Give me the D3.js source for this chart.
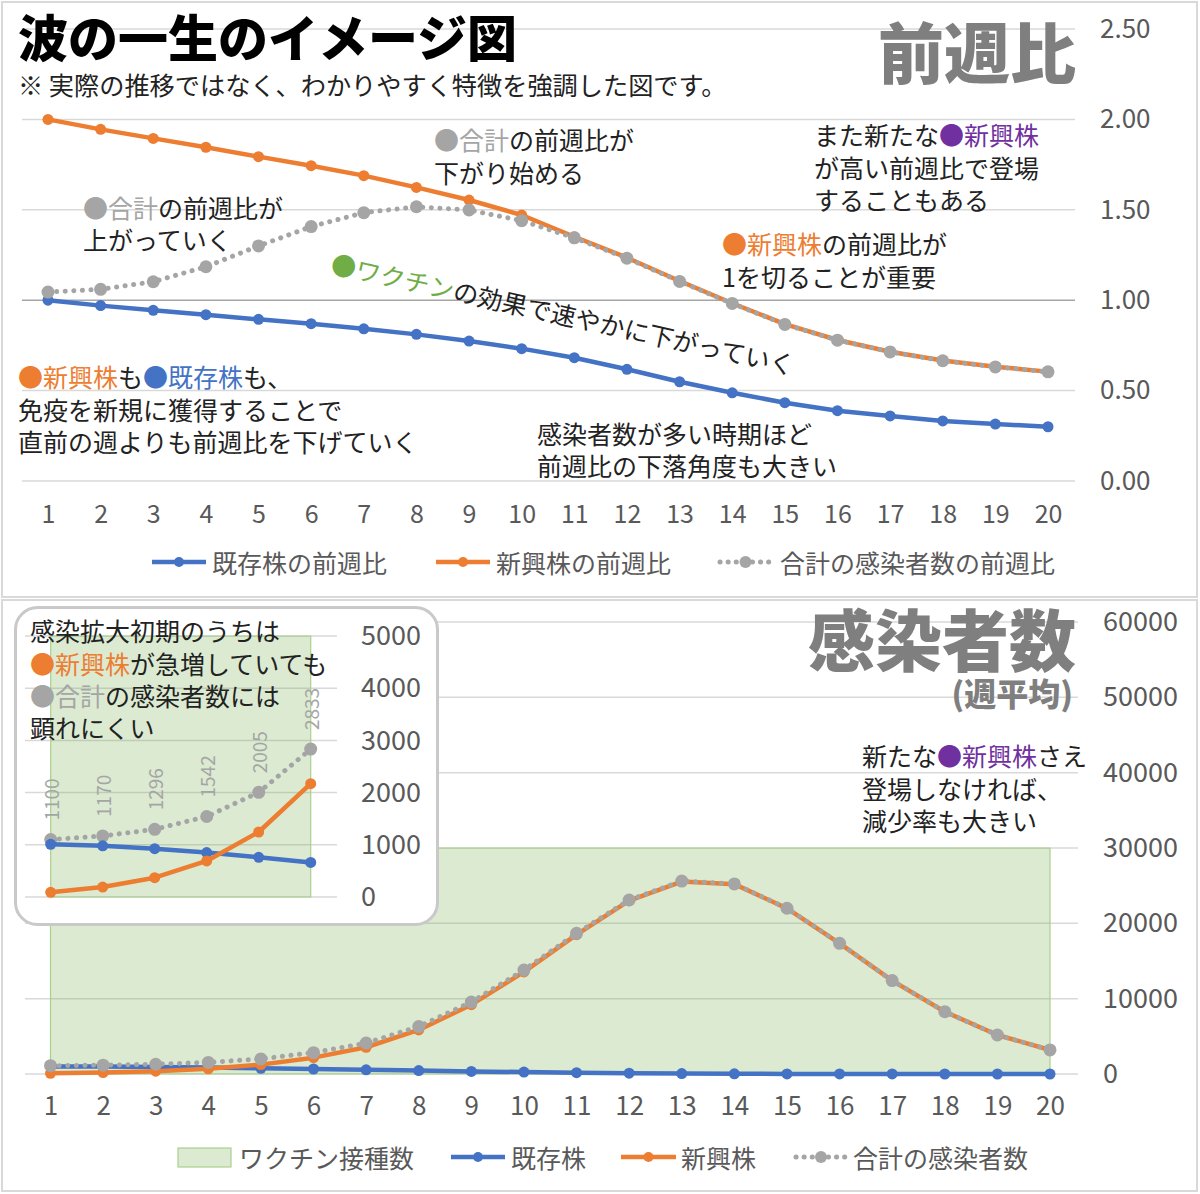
<!DOCTYPE html>
<html>
<head>
<meta charset="utf-8">
<script src="https://cdn.jsdelivr.net/npm/d3@7"></script>
<style>
  body { margin: 0; background: #fff; }
  svg { display: block; font-family: "Noto Sans CJK JP", "Noto Sans", sans-serif; }
</style>
</head>
<body>
<svg id="chart" width="1200" height="1194"></svg>
<script>
// ---- data ----
const weeks = [1, 2, 3, 4, 5, 6, 7, 8, 9, 10, 11, 12, 13, 14, 15, 16, 17, 18, 19, 20];

// week-over-week ratio (top panel)
const ratioExisting = [1.00, 0.97, 0.944, 0.92, 0.894, 0.87, 0.842, 0.811, 0.774, 0.732, 0.682, 0.618, 0.549, 0.488, 0.433, 0.389, 0.36, 0.332, 0.315, 0.30];
const ratioEmerging = [2.00, 1.945, 1.895, 1.846, 1.794, 1.744, 1.689, 1.624, 1.554, 1.471, 1.351, 1.235, 1.106, 0.983, 0.868, 0.78, 0.715, 0.666, 0.632, 0.605];
const ratioTotal    = [1.045, 1.06, 1.102, 1.185, 1.30, 1.407, 1.484, 1.517, 1.499, 1.44, 1.345, 1.232, 1.104, 0.982, 0.866, 0.779, 0.714, 0.665, 0.631, 0.604];

// weekly average cases (bottom panel)
const casesExisting = [1010, 980, 926, 852, 760, 663, 553, 449, 347, 254, 173, 107, 59, 29, 13, 5, 2, 1, 0, 0];
const casesEmerging = [90, 190, 370, 690, 1245, 2170, 3550, 5850, 9200, 13550, 18500, 23000, 25550, 25200, 21990, 17340, 12400, 8270, 5180, 3190];
const casesTotal    = [1100, 1170, 1296, 1542, 2005, 2833, 4100, 6300, 9550, 13800, 18670, 23100, 25610, 25230, 22000, 17345, 12400, 8270, 5180, 3190];
const vaccinations  = [30000, 30000, 30000, 30000, 30000, 30000, 30000, 30000, 30000, 30000, 30000, 30000, 30000, 30000, 30000, 30000, 30000, 30000, 30000, 30000];

const insetWeeks = [1, 2, 3, 4, 5, 6];

const ratioTicks = [0, 0.5, 1, 1.5, 2, 2.5];
const caseTicks = [0, 10000, 20000, 30000, 40000, 50000, 60000];
const insetTicks = [0, 1000, 2000, 3000, 4000, 5000];

// ---- colours ----
const C = {
  blue: "#4472c4", orange: "#ed7d31", grey: "#a5a5a5", green: "#70ad47",
  purple: "#7030a0", ink: "#222", axis: "#595959", grid: "#d9d9d9"
};

const svg = d3.select("#chart");

// panel frames
svg.append("rect").attr("x", 2).attr("y", 2).attr("width", 1195).attr("height", 595)
  .attr("fill", "none").attr("stroke", C.grid).attr("stroke-width", 2);
svg.append("rect").attr("x", 2).attr("y", 600).attr("width", 1195).attr("height", 591)
  .attr("fill", "none").attr("stroke", C.grid).attr("stroke-width", 2);

// ---- helpers ----
function richText(g, x, y, parts, size) {
  const t = g.append("text").attr("x", x).attr("y", y)
    .attr("dominant-baseline", "central").attr("font-size", size || 25);
  parts.forEach(p => {
    if (typeof p === "string") p = [p, C.ink];
    t.append("tspan").attr("fill", p[1]).text(p[0]);
  });
  return t;
}

function gridlines(g, y, ticks, x0, x1, strong) {
  g.selectAll(null).data(ticks).join("line")
    .attr("x1", x0).attr("x2", x1)
    .attr("y1", d => y(d)).attr("y2", d => y(d))
    .attr("stroke", d => d === strong ? "#a6a6a6" : C.grid)
    .attr("stroke-width", 1.5);
}

function series(g, xs, ys, x, y, color, opts) {
  opts = opts || {};
  const pts = xs.map((d, i) => [d, ys[i]]);
  const line = d3.line().x(d => x(d[0])).y(d => y(d[1]));
  const path = g.append("path").datum(pts).attr("d", line)
    .attr("fill", "none").attr("stroke", color).attr("stroke-width", opts.width || 4.5)
    .attr("stroke-linejoin", "round");
  if (opts.dotted) path.attr("stroke-dasharray", "0.1 8.5").attr("stroke-linecap", "round").attr("stroke-width", 5);
  g.selectAll(null).data(pts).join("circle")
    .attr("cx", d => x(d[0])).attr("cy", d => y(d[1]))
    .attr("r", opts.r || 5.5).attr("fill", color);
}

function styleAxis(a, size) {
  a.select(".domain").remove();
  a.selectAll("text").attr("fill", C.axis).attr("font-size", size)
    .attr("font-family", '"Noto Sans CJK JP", "Noto Sans", sans-serif');
}

function legendLine(g, x0, x1, y, color, dotted) {
  const l = g.append("line").attr("x1", x0).attr("x2", x1).attr("y1", y).attr("y2", y)
    .attr("stroke", color).attr("stroke-width", 4.5);
  if (dotted) l.attr("stroke-dasharray", "0.1 8").attr("stroke-linecap", "round").attr("stroke-width", 5);
  g.append("circle").attr("cx", (x0 + x1) / 2).attr("cy", y).attr("r", dotted ? 6 : 5).attr("fill", color);
}

// ================= TOP PANEL: 前週比 =================
const xTop = d3.scaleLinear().domain([1, 20]).range([48, 1048]);
const yTop = d3.scaleLinear().domain([0, 2.5]).range([481, 29]);
const topG = svg.append("g");

gridlines(topG, yTop, ratioTicks, 22, 1075, 1);

topG.append("g").attr("transform", "translate(1100,0)")
  .call(d3.axisRight(yTop).tickValues(ratioTicks).tickFormat(d3.format(".2f")).tickSize(0).tickPadding(0))
  .call(a => styleAxis(a, 26));
topG.append("g").attr("transform", "translate(0,505)")
  .call(d3.axisBottom(xTop).tickValues(weeks).tickFormat(d3.format("d")).tickSize(0).tickPadding(0))
  .call(a => styleAxis(a, 25));

series(topG, weeks, ratioExisting, xTop, yTop, C.blue);
series(topG, weeks, ratioEmerging, xTop, yTop, C.orange);
series(topG, weeks, ratioTotal, xTop, yTop, C.grey, { dotted: true, r: 6.5 });

// titles
topG.append("text").attr("x", 18).attr("y", 35).attr("dominant-baseline", "central")
  .attr("font-size", 50).attr("font-weight", 900).attr("fill", "#000").text("波の一生のイメージ図");
richText(topG, 18, 84, ["※ 実際の推移ではなく、わかりやすく特徴を強調した図です。"], 25.2);
topG.append("text").attr("x", 1076).attr("y", 49).attr("dominant-baseline", "central")
  .attr("text-anchor", "end").attr("font-size", 66).attr("font-weight", 900)
  .attr("fill", "#7f7f7f").text("前週比");

// annotations
richText(topG, 434, 139, [["●合計", C.grey], "の前週比が"]);
richText(topG, 434, 172, ["下がり始める"]);
richText(topG, 83, 207, [["●合計", C.grey], "の前週比が"]);
richText(topG, 83, 239, ["上がっていく"]);
richText(topG, 0, 0, [["●ワクチン", C.green], "の効果で速やかに下がっていく"])
  .attr("transform", "translate(332,262) rotate(12.5)");
richText(topG, 18, 376, [["●新興株", C.orange], "も", ["●既存株", C.blue], "も、"]);
richText(topG, 18, 409, ["免疫を新規に獲得することで"]);
richText(topG, 18, 441, ["直前の週よりも前週比を下げていく"]);
richText(topG, 537, 433, ["感染者数が多い時期ほど"]);
richText(topG, 537, 465, ["前週比の下落角度も大きい"]);
richText(topG, 814, 134, ["また新たな", ["●新興株", C.purple]]);
richText(topG, 814, 167, ["が高い前週比で登場"]);
richText(topG, 814, 199, ["することもある"]);
richText(topG, 722, 243, [["●新興株", C.orange], "の前週比が"]);
richText(topG, 722, 276, ["1を切ることが重要"]);

// legend
const lgTop = topG.append("g");
legendLine(lgTop, 152, 206, 562, C.blue);
richText(lgTop, 212, 562, [["既存株の前週比", C.axis]], 25);
legendLine(lgTop, 436, 490, 562, C.orange);
richText(lgTop, 496, 562, [["新興株の前週比", C.axis]], 25);
legendLine(lgTop, 720, 771, 562, C.grey, true);
richText(lgTop, 780, 562, [["合計の感染者数の前週比", C.axis]], 25);

// ================= BOTTOM PANEL: 感染者数 =================
const xBot = d3.scaleLinear().domain([1, 20]).range([50.5, 1050]);
const yBot = d3.scaleLinear().domain([0, 60000]).range([1074, 622]);
const botG = svg.append("g");

gridlines(botG, yBot, caseTicks, 25, 1078);

const area = d3.area().x(d => xBot(d[0])).y0(yBot(0)).y1(d => yBot(d[1]));
botG.append("path").datum(weeks.map((d, i) => [d, vaccinations[i]])).attr("d", area)
  .attr("fill", C.green).attr("fill-opacity", 0.25)
  .attr("stroke", "#a9d18e").attr("stroke-width", 1.2);

botG.append("g").attr("transform", "translate(1103,0)")
  .call(d3.axisRight(yBot).tickValues(caseTicks).tickFormat(d3.format("d")).tickSize(0).tickPadding(0))
  .call(a => styleAxis(a, 27));
botG.append("g").attr("transform", "translate(0,1097)")
  .call(d3.axisBottom(xBot).tickValues(weeks).tickFormat(d3.format("d")).tickSize(0).tickPadding(0))
  .call(a => styleAxis(a, 26));

series(botG, weeks, casesExisting, xBot, yBot, C.blue);
series(botG, weeks, casesEmerging, xBot, yBot, C.orange);
series(botG, weeks, casesTotal, xBot, yBot, C.grey, { dotted: true, r: 6.5 });

botG.append("text").attr("x", 1076).attr("y", 636).attr("dominant-baseline", "central")
  .attr("text-anchor", "end").attr("font-size", 67).attr("font-weight", 900)
  .attr("fill", "#7f7f7f").text("感染者数");
botG.append("text").attr("x", 1073).attr("y", 692).attr("dominant-baseline", "central")
  .attr("text-anchor", "end").attr("font-size", 32).attr("font-weight", 900)
  .attr("fill", "#7f7f7f").text("(週平均)");

richText(botG, 862, 755, ["新たな", ["●新興株", C.purple], "さえ"]);
richText(botG, 862, 788, ["登場しなければ、"]);
richText(botG, 862, 820, ["減少率も大きい"]);

// legend
const lgBot = botG.append("g");
lgBot.append("rect").attr("x", 178).attr("y", 1148).attr("width", 53).attr("height", 19)
  .attr("fill", C.green).attr("fill-opacity", 0.25).attr("stroke", "#a9d18e").attr("stroke-width", 1.2);
richText(lgBot, 239, 1157, [["ワクチン接種数", C.axis]], 25);
legendLine(lgBot, 451, 505, 1157, C.blue);
richText(lgBot, 511, 1157, [["既存株", C.axis]], 25);
legendLine(lgBot, 621, 676, 1157, C.orange);
richText(lgBot, 681, 1157, [["新興株", C.axis]], 25);
legendLine(lgBot, 796, 846, 1157, C.grey, true);
richText(lgBot, 853, 1157, [["合計の感染者数", C.axis]], 25);

// ================= INSET: early phase zoom =================
const ins = svg.append("g");
ins.append("rect").attr("x", 15.5).attr("y", 607.5).attr("width", 422).attr("height", 317)
  .attr("rx", 22).attr("fill", "#fff").attr("stroke", "#c9c9c9").attr("stroke-width", 3);

const xIn = d3.scaleLinear().domain([1, 6]).range([50.7, 310.7]);
const yIn = d3.scaleLinear().domain([0, 5000]).range([897, 636]).clamp(true);

gridlines(ins, yIn, insetTicks, 25, 337);

ins.append("path").datum(insetWeeks.map((d, i) => [d, vaccinations[i]]))
  .attr("d", d3.area().x(d => xIn(d[0])).y0(yIn(0)).y1(d => yIn(d[1])))
  .attr("fill", C.green).attr("fill-opacity", 0.25)
  .attr("stroke", "#a9d18e").attr("stroke-width", 1.2);

ins.append("g").attr("transform", "translate(361,0)")
  .call(d3.axisRight(yIn).tickValues(insetTicks).tickFormat(d3.format("d")).tickSize(0).tickPadding(0))
  .call(a => styleAxis(a, 27));

const inTotal = casesTotal.slice(0, 6);
series(ins, insetWeeks, inTotal, xIn, yIn, C.grey, { dotted: true, r: 6.5 });
series(ins, insetWeeks, casesExisting.slice(0, 6), xIn, yIn, C.blue);
series(ins, insetWeeks, casesEmerging.slice(0, 6), xIn, yIn, C.orange);

// rotated data labels on the total line
ins.selectAll(null).data(insetWeeks).join("text")
  .attr("transform", (d, i) => `translate(${xIn(d)},${yIn(inTotal[i]) - 19}) rotate(-90)`)
  .attr("dominant-baseline", "central").attr("font-size", 19).attr("fill", C.grey)
  .text((d, i) => inTotal[i]);

richText(ins, 30, 630, ["感染拡大初期のうちは"]);
richText(ins, 30, 663, [["●新興株", C.orange], "が急増していても"]);
richText(ins, 30, 695, [["●合計", C.grey], "の感染者数には"]);
richText(ins, 30, 727, ["顕れにくい"]);
</script>
</body>
</html>
